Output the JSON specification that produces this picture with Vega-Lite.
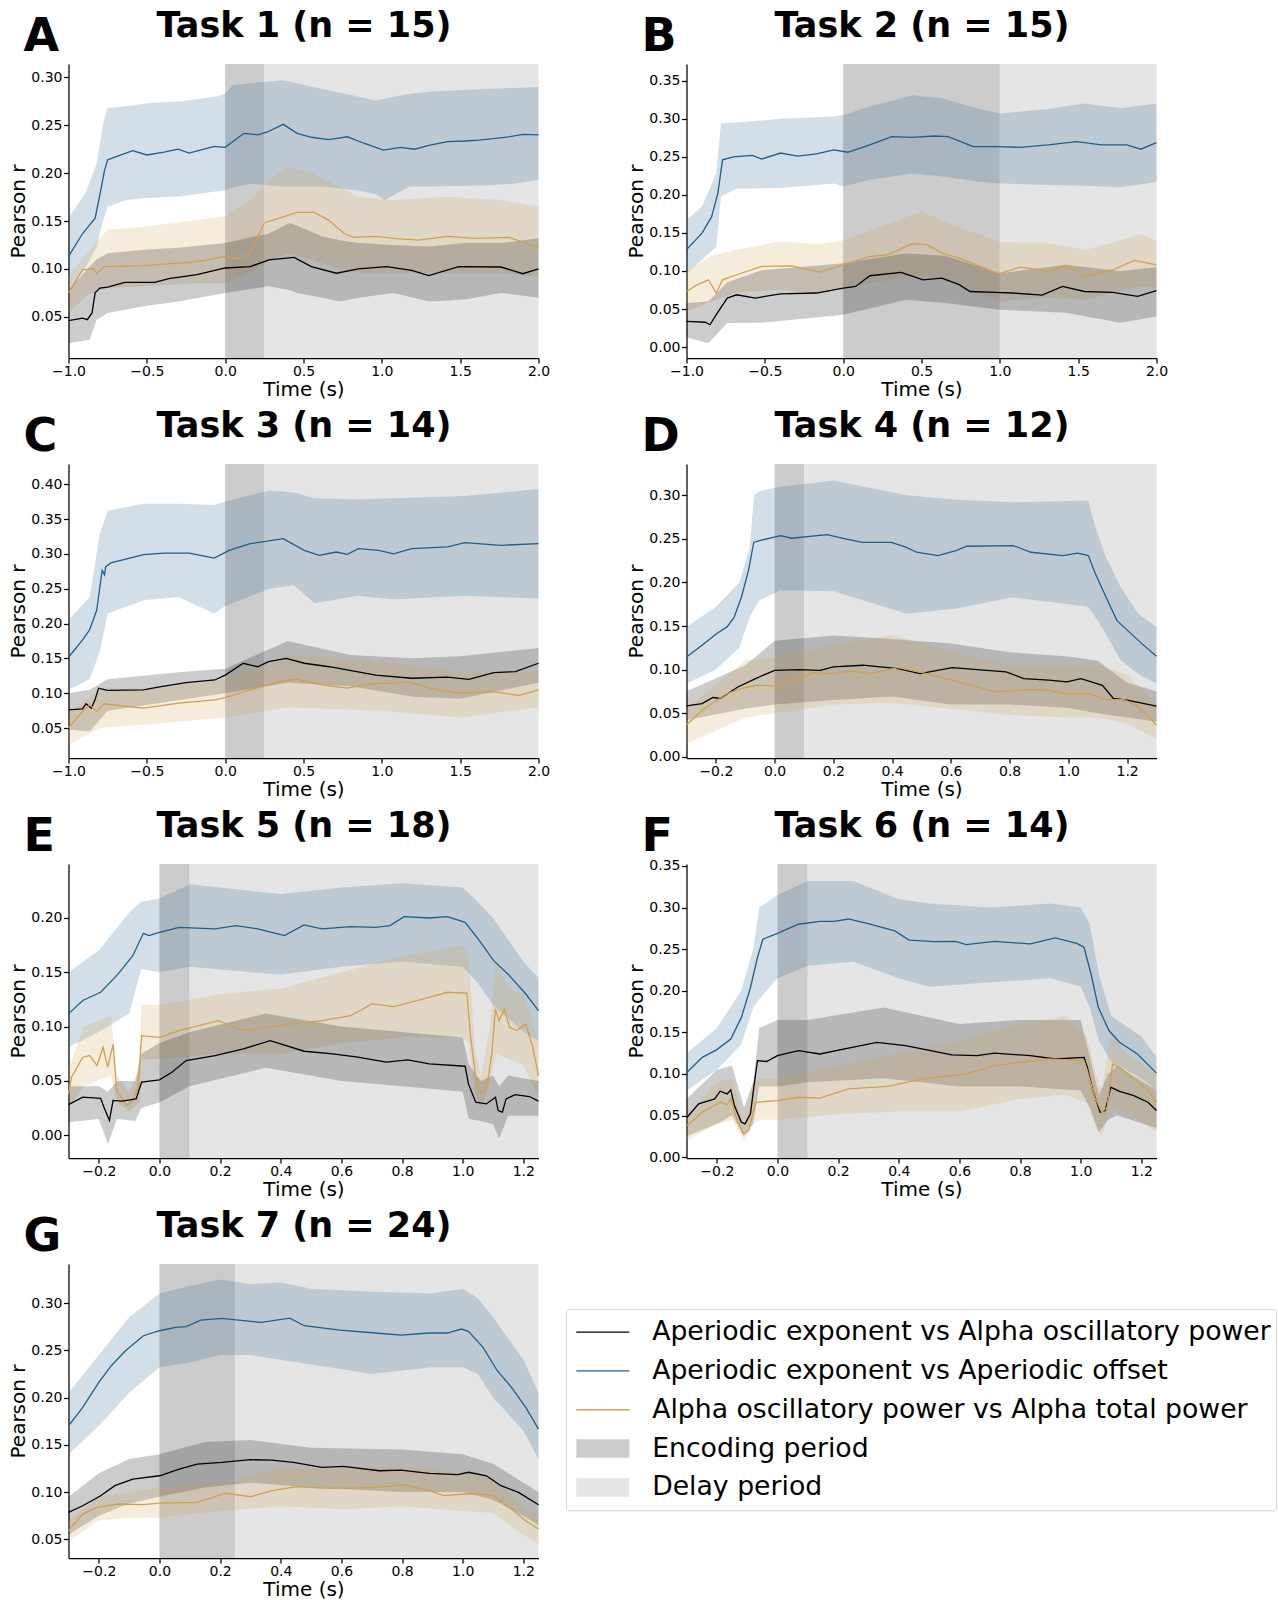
{
"$schema": "https://vega.github.io/schema/vega-lite/v6.json",
"background": "white",
"padding": {"left": 7.5, "top": 8, "right": 0, "bottom": 0},
"config": {
  "font": "DejaVu Sans",
  "view": {"stroke": null},
  "axis": {"grid": false, "domainColor": "#000000", "domainWidth": 1.25, "tickColor": "#000000", "tickWidth": 1.25, "tickSize": 5, "labelFont": "DejaVu Sans", "labelFontSize": 14, "labelColor": "#000000", "labelPadding": 1.5, "labelFlush": false, "labelOverlap": false, "titleFont": "DejaVu Sans", "titleFontSize": 20, "titleFontWeight": "normal", "titleColor": "#000000"}
},
"datasets": {
"spans": [
{"p":"A","per":"enc","x0":0,"x1":0.25},{"p":"A","per":"del","x0":0.25,"x1":2},
{"p":"B","per":"enc","x0":0,"x1":1},{"p":"B","per":"del","x0":1,"x1":2},
{"p":"C","per":"enc","x0":0,"x1":0.25},{"p":"C","per":"del","x0":0.25,"x1":2},
{"p":"D","per":"enc","x0":0,"x1":0.1},{"p":"D","per":"del","x0":0.1,"x1":1.3},
{"p":"E","per":"enc","x0":0,"x1":0.1},{"p":"E","per":"del","x0":0.1,"x1":1.25},
{"p":"F","per":"enc","x0":0,"x1":0.1},{"p":"F","per":"del","x0":0.1,"x1":1.25},
{"p":"G","per":"enc","x0":0,"x1":0.25},{"p":"G","per":"del","x0":0.25,"x1":1.25}
],
"legend": [
{"order":1,"kind":"line","key":"k","label":"Aperiodic exponent vs Alpha oscillatory power"},
{"order":2,"kind":"line","key":"b","label":"Aperiodic exponent vs Aperiodic offset"},
{"order":3,"kind":"line","key":"g","label":"Alpha oscillatory power vs Alpha total power"},
{"order":4,"kind":"patch","key":"enc","label":"Encoding period"},
{"order":5,"kind":"patch","key":"del","label":"Delay period"}
],
"lines": [
{"p":"A","s":"b","t":-1,"r":0.113},{"p":"A","s":"b","t":-0.91,"r":0.137},{"p":"A","s":"b","t":-0.83,"r":0.153},{"p":"A","s":"b","t":-0.8,"r":0.177},{"p":"A","s":"b","t":-0.77,"r":0.203},{"p":"A","s":"b","t":-0.75,"r":0.214},{"p":"A","s":"b","t":-0.7,"r":0.217},{"p":"A","s":"b","t":-0.59,"r":0.2235},{"p":"A","s":"b","t":-0.5,"r":0.219},{"p":"A","s":"b","t":-0.39,"r":0.222},{"p":"A","s":"b","t":-0.3,"r":0.225},{"p":"A","s":"b","t":-0.23,"r":0.221},{"p":"A","s":"b","t":-0.16,"r":0.224},{"p":"A","s":"b","t":-0.07,"r":0.228},{"p":"A","s":"b","t":0,"r":0.227},{"p":"A","s":"b","t":0.12,"r":0.2416},{"p":"A","s":"b","t":0.21,"r":0.24},{"p":"A","s":"b","t":0.27,"r":0.243},{"p":"A","s":"b","t":0.37,"r":0.251},{"p":"A","s":"b","t":0.46,"r":0.2416},{"p":"A","s":"b","t":0.55,"r":0.2375},{"p":"A","s":"b","t":0.66,"r":0.235},{"p":"A","s":"b","t":0.78,"r":0.238},{"p":"A","s":"b","t":0.89,"r":0.231},{"p":"A","s":"b","t":1.01,"r":0.224},{"p":"A","s":"b","t":1.12,"r":0.227},{"p":"A","s":"b","t":1.21,"r":0.225},{"p":"A","s":"b","t":1.3,"r":0.229},{"p":"A","s":"b","t":1.42,"r":0.233},{"p":"A","s":"b","t":1.53,"r":0.2336},{"p":"A","s":"b","t":1.62,"r":0.2346},{"p":"A","s":"b","t":1.71,"r":0.236},{"p":"A","s":"b","t":1.81,"r":0.238},{"p":"A","s":"b","t":1.9,"r":0.2405},{"p":"A","s":"b","t":2,"r":0.24},
{"p":"A","s":"g","t":-1,"r":0.075},{"p":"A","s":"g","t":-0.91,"r":0.099},{"p":"A","s":"g","t":-0.84,"r":0.1},{"p":"A","s":"g","t":-0.82,"r":0.095},{"p":"A","s":"g","t":-0.77,"r":0.1025},{"p":"A","s":"g","t":-0.52,"r":0.1035},{"p":"A","s":"g","t":-0.3,"r":0.106},{"p":"A","s":"g","t":-0.18,"r":0.1077},{"p":"A","s":"g","t":0,"r":0.113},{"p":"A","s":"g","t":0.09,"r":0.111},{"p":"A","s":"g","t":0.16,"r":0.1165},{"p":"A","s":"g","t":0.25,"r":0.148},{"p":"A","s":"g","t":0.345,"r":0.153},{"p":"A","s":"g","t":0.46,"r":0.159},{"p":"A","s":"g","t":0.57,"r":0.159},{"p":"A","s":"g","t":0.66,"r":0.151},{"p":"A","s":"g","t":0.76,"r":0.137},{"p":"A","s":"g","t":0.82,"r":0.133},{"p":"A","s":"g","t":0.96,"r":0.134},{"p":"A","s":"g","t":1.075,"r":0.132},{"p":"A","s":"g","t":1.235,"r":0.13},{"p":"A","s":"g","t":1.42,"r":0.134},{"p":"A","s":"g","t":1.6,"r":0.132},{"p":"A","s":"g","t":1.81,"r":0.133},{"p":"A","s":"g","t":2,"r":0.1225},
{"p":"A","s":"k","t":-1,"r":0.046},{"p":"A","s":"k","t":-0.91,"r":0.0486},{"p":"A","s":"k","t":-0.88,"r":0.047},{"p":"A","s":"k","t":-0.85,"r":0.054},{"p":"A","s":"k","t":-0.83,"r":0.075},{"p":"A","s":"k","t":-0.8,"r":0.08},{"p":"A","s":"k","t":-0.75,"r":0.081},{"p":"A","s":"k","t":-0.64,"r":0.086},{"p":"A","s":"k","t":-0.45,"r":0.086},{"p":"A","s":"k","t":-0.36,"r":0.09},{"p":"A","s":"k","t":-0.18,"r":0.094},{"p":"A","s":"k","t":0,"r":0.101},{"p":"A","s":"k","t":0.16,"r":0.1025},{"p":"A","s":"k","t":0.28,"r":0.1095},{"p":"A","s":"k","t":0.44,"r":0.112},{"p":"A","s":"k","t":0.55,"r":0.1025},{"p":"A","s":"k","t":0.71,"r":0.0955},{"p":"A","s":"k","t":0.85,"r":0.1},{"p":"A","s":"k","t":1.03,"r":0.1025},{"p":"A","s":"k","t":1.19,"r":0.0985},{"p":"A","s":"k","t":1.3,"r":0.093},{"p":"A","s":"k","t":1.49,"r":0.1025},{"p":"A","s":"k","t":1.76,"r":0.102},{"p":"A","s":"k","t":1.9,"r":0.095},{"p":"A","s":"k","t":2,"r":0.1},
{"p":"B","s":"b","t":-1,"r":0.128},{"p":"B","s":"b","t":-0.9,"r":0.15},{"p":"B","s":"b","t":-0.84,"r":0.171},{"p":"B","s":"b","t":-0.8,"r":0.202},{"p":"B","s":"b","t":-0.77,"r":0.246},{"p":"B","s":"b","t":-0.7,"r":0.25},{"p":"B","s":"b","t":-0.58,"r":0.252},{"p":"B","s":"b","t":-0.52,"r":0.247},{"p":"B","s":"b","t":-0.4,"r":0.255},{"p":"B","s":"b","t":-0.29,"r":0.251},{"p":"B","s":"b","t":-0.17,"r":0.254},{"p":"B","s":"b","t":-0.06,"r":0.259},{"p":"B","s":"b","t":0.03,"r":0.256},{"p":"B","s":"b","t":0.17,"r":0.2656},{"p":"B","s":"b","t":0.31,"r":0.2765},{"p":"B","s":"b","t":0.44,"r":0.2756},{"p":"B","s":"b","t":0.58,"r":0.2774},{"p":"B","s":"b","t":0.67,"r":0.2765},{"p":"B","s":"b","t":0.83,"r":0.2634},{"p":"B","s":"b","t":0.99,"r":0.2634},{"p":"B","s":"b","t":1.13,"r":0.2625},{"p":"B","s":"b","t":1.31,"r":0.2656},{"p":"B","s":"b","t":1.49,"r":0.27},{"p":"B","s":"b","t":1.65,"r":0.2656},{"p":"B","s":"b","t":1.81,"r":0.2656},{"p":"B","s":"b","t":1.9,"r":0.26},{"p":"B","s":"b","t":2,"r":0.2687},
{"p":"B","s":"g","t":-1,"r":0.073},{"p":"B","s":"g","t":-0.93,"r":0.082},{"p":"B","s":"g","t":-0.86,"r":0.0884},{"p":"B","s":"g","t":-0.81,"r":0.071},{"p":"B","s":"g","t":-0.77,"r":0.0884},{"p":"B","s":"g","t":-0.68,"r":0.095},{"p":"B","s":"g","t":-0.52,"r":0.106},{"p":"B","s":"g","t":-0.33,"r":0.1068},{"p":"B","s":"g","t":-0.15,"r":0.0985},{"p":"B","s":"g","t":0,"r":0.108},{"p":"B","s":"g","t":0.17,"r":0.119},{"p":"B","s":"g","t":0.28,"r":0.1212},{"p":"B","s":"g","t":0.44,"r":0.1357},{"p":"B","s":"g","t":0.53,"r":0.135},{"p":"B","s":"g","t":0.63,"r":0.1234},{"p":"B","s":"g","t":0.74,"r":0.1168},{"p":"B","s":"g","t":0.85,"r":0.108},{"p":"B","s":"g","t":0.99,"r":0.0963},{"p":"B","s":"g","t":1.13,"r":0.105},{"p":"B","s":"g","t":1.31,"r":0.0993},{"p":"B","s":"g","t":1.43,"r":0.1072},{"p":"B","s":"g","t":1.54,"r":0.0928},{"p":"B","s":"g","t":1.72,"r":0.1015},{"p":"B","s":"g","t":1.86,"r":0.1138},{"p":"B","s":"g","t":2,"r":0.108},
{"p":"B","s":"k","t":-1,"r":0.0337},{"p":"B","s":"k","t":-0.88,"r":0.0326},{"p":"B","s":"k","t":-0.85,"r":0.0293},{"p":"B","s":"k","t":-0.81,"r":0.0425},{"p":"B","s":"k","t":-0.74,"r":0.0644},{"p":"B","s":"k","t":-0.68,"r":0.0687},{"p":"B","s":"k","t":-0.56,"r":0.0644},{"p":"B","s":"k","t":-0.4,"r":0.07},{"p":"B","s":"k","t":-0.17,"r":0.071},{"p":"B","s":"k","t":0,"r":0.0775},{"p":"B","s":"k","t":0.08,"r":0.0797},{"p":"B","s":"k","t":0.17,"r":0.0937},{"p":"B","s":"k","t":0.37,"r":0.098},{"p":"B","s":"k","t":0.51,"r":0.0884},{"p":"B","s":"k","t":0.63,"r":0.0906},{"p":"B","s":"k","t":0.74,"r":0.082},{"p":"B","s":"k","t":0.81,"r":0.073},{"p":"B","s":"k","t":0.97,"r":0.0718},{"p":"B","s":"k","t":1.08,"r":0.071},{"p":"B","s":"k","t":1.27,"r":0.0683},{"p":"B","s":"k","t":1.4,"r":0.0797},{"p":"B","s":"k","t":1.54,"r":0.073},{"p":"B","s":"k","t":1.72,"r":0.0718},{"p":"B","s":"k","t":1.88,"r":0.0665},{"p":"B","s":"k","t":2,"r":0.074},
{"p":"C","s":"b","t":-1,"r":0.1516},{"p":"C","s":"b","t":-0.91,"r":0.1764},{"p":"C","s":"b","t":-0.865,"r":0.191},{"p":"C","s":"b","t":-0.82,"r":0.219},{"p":"C","s":"b","t":-0.785,"r":0.2765},{"p":"C","s":"b","t":-0.77,"r":0.27},{"p":"C","s":"b","t":-0.763,"r":0.2813},{"p":"C","s":"b","t":-0.73,"r":0.287},{"p":"C","s":"b","t":-0.52,"r":0.2989},{"p":"C","s":"b","t":-0.39,"r":0.301},{"p":"C","s":"b","t":-0.23,"r":0.301},{"p":"C","s":"b","t":-0.07,"r":0.294},{"p":"C","s":"b","t":0.025,"r":0.305},{"p":"C","s":"b","t":0.16,"r":0.3146},{"p":"C","s":"b","t":0.3,"r":0.3194},{"p":"C","s":"b","t":0.37,"r":0.3218},{"p":"C","s":"b","t":0.505,"r":0.305},{"p":"C","s":"b","t":0.6,"r":0.298},{"p":"C","s":"b","t":0.71,"r":0.3027},{"p":"C","s":"b","t":0.78,"r":0.2994},{"p":"C","s":"b","t":0.85,"r":0.3075},{"p":"C","s":"b","t":0.98,"r":0.305},{"p":"C","s":"b","t":1.075,"r":0.3},{"p":"C","s":"b","t":1.19,"r":0.3075},{"p":"C","s":"b","t":1.42,"r":0.31},{"p":"C","s":"b","t":1.53,"r":0.316},{"p":"C","s":"b","t":1.76,"r":0.3123},{"p":"C","s":"b","t":2,"r":0.3146},
{"p":"C","s":"k","t":-1,"r":0.0762},{"p":"C","s":"k","t":-0.911,"r":0.0776},{"p":"C","s":"k","t":-0.888,"r":0.085},{"p":"C","s":"k","t":-0.854,"r":0.0786},{"p":"C","s":"k","t":-0.831,"r":0.0905},{"p":"C","s":"k","t":-0.808,"r":0.1072},{"p":"C","s":"k","t":-0.751,"r":0.104},{"p":"C","s":"k","t":-0.523,"r":0.1048},{"p":"C","s":"k","t":-0.409,"r":0.1096},{"p":"C","s":"k","t":-0.249,"r":0.1153},{"p":"C","s":"k","t":-0.066,"r":0.119},{"p":"C","s":"k","t":0,"r":0.126},{"p":"C","s":"k","t":0.116,"r":0.143},{"p":"C","s":"k","t":0.208,"r":0.138},{"p":"C","s":"k","t":0.276,"r":0.1453},{"p":"C","s":"k","t":0.39,"r":0.15},{"p":"C","s":"k","t":0.505,"r":0.143},{"p":"C","s":"k","t":0.664,"r":0.138},{"p":"C","s":"k","t":0.779,"r":0.1334},{"p":"C","s":"k","t":0.961,"r":0.126},{"p":"C","s":"k","t":1.19,"r":0.1215},{"p":"C","s":"k","t":1.418,"r":0.123},{"p":"C","s":"k","t":1.555,"r":0.12},{"p":"C","s":"k","t":1.715,"r":0.1296},{"p":"C","s":"k","t":1.852,"r":0.131},{"p":"C","s":"k","t":2,"r":0.143},
{"p":"C","s":"g","t":-1,"r":0.05},{"p":"C","s":"g","t":-0.911,"r":0.0738},{"p":"C","s":"g","t":-0.865,"r":0.0834},{"p":"C","s":"g","t":-0.82,"r":0.0738},{"p":"C","s":"g","t":-0.774,"r":0.0848},{"p":"C","s":"g","t":-0.523,"r":0.0786},{"p":"C","s":"g","t":-0.295,"r":0.0857},{"p":"C","s":"g","t":-0.066,"r":0.0905},{"p":"C","s":"g","t":0,"r":0.0938},{"p":"C","s":"g","t":0.162,"r":0.1048},{"p":"C","s":"g","t":0.345,"r":0.1167},{"p":"C","s":"g","t":0.459,"r":0.12},{"p":"C","s":"g","t":0.619,"r":0.112},{"p":"C","s":"g","t":0.779,"r":0.1072},{"p":"C","s":"g","t":0.916,"r":0.1134},{"p":"C","s":"g","t":1.075,"r":0.1144},{"p":"C","s":"g","t":1.167,"r":0.1167},{"p":"C","s":"g","t":1.304,"r":0.1072},{"p":"C","s":"g","t":1.486,"r":0.1},{"p":"C","s":"g","t":1.715,"r":0.1024},{"p":"C","s":"g","t":1.874,"r":0.0967},{"p":"C","s":"g","t":2,"r":0.1048},
{"p":"D","s":"b","t":-0.3,"r":0.1145},{"p":"D","s":"b","t":-0.247,"r":0.128},{"p":"D","s":"b","t":-0.198,"r":0.1412},{"p":"D","s":"b","t":-0.162,"r":0.149},{"p":"D","s":"b","t":-0.138,"r":0.16},{"p":"D","s":"b","t":-0.113,"r":0.1832},{"p":"D","s":"b","t":-0.089,"r":0.2137},{"p":"D","s":"b","t":-0.071,"r":0.246},{"p":"D","s":"b","t":-0.052,"r":0.248},{"p":"D","s":"b","t":0.021,"r":0.2538},{"p":"D","s":"b","t":0.057,"r":0.2508},{"p":"D","s":"b","t":0.179,"r":0.255},{"p":"D","s":"b","t":0.24,"r":0.25},{"p":"D","s":"b","t":0.3,"r":0.246},{"p":"D","s":"b","t":0.398,"r":0.246},{"p":"D","s":"b","t":0.447,"r":0.2405},{"p":"D","s":"b","t":0.483,"r":0.2347},{"p":"D","s":"b","t":0.556,"r":0.2309},{"p":"D","s":"b","t":0.617,"r":0.2366},{"p":"D","s":"b","t":0.654,"r":0.2416},{"p":"D","s":"b","t":0.812,"r":0.2424},{"p":"D","s":"b","t":0.873,"r":0.2347},{"p":"D","s":"b","t":0.982,"r":0.2309},{"p":"D","s":"b","t":1.031,"r":0.2336},{"p":"D","s":"b","t":1.068,"r":0.2309},{"p":"D","s":"b","t":1.092,"r":0.21},{"p":"D","s":"b","t":1.128,"r":0.1832},{"p":"D","s":"b","t":1.165,"r":0.1565},{"p":"D","s":"b","t":1.201,"r":0.145},{"p":"D","s":"b","t":1.25,"r":0.1298},{"p":"D","s":"b","t":1.3,"r":0.1153},
{"p":"D","s":"k","t":-0.3,"r":0.0584},{"p":"D","s":"k","t":-0.247,"r":0.061},{"p":"D","s":"k","t":-0.21,"r":0.0679},{"p":"D","s":"k","t":-0.186,"r":0.0668},{"p":"D","s":"k","t":-0.125,"r":0.08},{"p":"D","s":"k","t":-0.065,"r":0.0897},{"p":"D","s":"k","t":0,"r":0.0992},{"p":"D","s":"k","t":0.082,"r":0.1},{"p":"D","s":"k","t":0.155,"r":0.0992},{"p":"D","s":"k","t":0.2,"r":0.103},{"p":"D","s":"k","t":0.3,"r":0.105},{"p":"D","s":"k","t":0.42,"r":0.101},{"p":"D","s":"k","t":0.495,"r":0.0954},{"p":"D","s":"k","t":0.605,"r":0.1023},{"p":"D","s":"k","t":0.69,"r":0.1},{"p":"D","s":"k","t":0.788,"r":0.0973},{"p":"D","s":"k","t":0.848,"r":0.0897},{"p":"D","s":"k","t":0.934,"r":0.0878},{"p":"D","s":"k","t":0.995,"r":0.0859},{"p":"D","s":"k","t":1.043,"r":0.0897},{"p":"D","s":"k","t":1.116,"r":0.082},{"p":"D","s":"k","t":1.153,"r":0.0668},{"p":"D","s":"k","t":1.2,"r":0.0649},{"p":"D","s":"k","t":1.3,"r":0.058},
{"p":"D","s":"g","t":-0.3,"r":0.0363},{"p":"D","s":"g","t":-0.247,"r":0.0534},{"p":"D","s":"g","t":-0.162,"r":0.0725},{"p":"D","s":"g","t":-0.113,"r":0.0782},{"p":"D","s":"g","t":-0.065,"r":0.082},{"p":"D","s":"g","t":0,"r":0.0813},{"p":"D","s":"g","t":0.082,"r":0.0897},{"p":"D","s":"g","t":0.13,"r":0.0962},{"p":"D","s":"g","t":0.2,"r":0.0954},{"p":"D","s":"g","t":0.264,"r":0.0985},{"p":"D","s":"g","t":0.325,"r":0.0954},{"p":"D","s":"g","t":0.42,"r":0.1023},{"p":"D","s":"g","t":0.508,"r":0.0962},{"p":"D","s":"g","t":0.568,"r":0.0908},{"p":"D","s":"g","t":0.69,"r":0.0802},{"p":"D","s":"g","t":0.751,"r":0.0744},{"p":"D","s":"g","t":0.873,"r":0.0771},{"p":"D","s":"g","t":0.934,"r":0.0763},{"p":"D","s":"g","t":0.995,"r":0.0718},{"p":"D","s":"g","t":1.068,"r":0.0725},{"p":"D","s":"g","t":1.128,"r":0.0656},{"p":"D","s":"g","t":1.19,"r":0.0656},{"p":"D","s":"g","t":1.238,"r":0.0572},{"p":"D","s":"g","t":1.3,"r":0.0363},
{"p":"E","s":"b","t":-0.3,"r":0.1117},{"p":"E","s":"b","t":-0.253,"r":0.124},{"p":"E","s":"b","t":-0.194,"r":0.1316},{"p":"E","s":"b","t":-0.136,"r":0.1485},{"p":"E","s":"b","t":-0.088,"r":0.1653},{"p":"E","s":"b","t":-0.053,"r":0.1859},{"p":"E","s":"b","t":-0.035,"r":0.1837},{"p":"E","s":"b","t":0,"r":0.1868},{"p":"E","s":"b","t":0.065,"r":0.1914},{"p":"E","s":"b","t":0.183,"r":0.1899},{"p":"E","s":"b","t":0.253,"r":0.193},{"p":"E","s":"b","t":0.324,"r":0.1899},{"p":"E","s":"b","t":0.412,"r":0.1837},{"p":"E","s":"b","t":0.477,"r":0.1936},{"p":"E","s":"b","t":0.536,"r":0.1899},{"p":"E","s":"b","t":0.63,"r":0.192},{"p":"E","s":"b","t":0.713,"r":0.1914},{"p":"E","s":"b","t":0.76,"r":0.193},{"p":"E","s":"b","t":0.807,"r":0.2012},{"p":"E","s":"b","t":0.89,"r":0.2},{"p":"E","s":"b","t":0.949,"r":0.2012},{"p":"E","s":"b","t":1.008,"r":0.196},{"p":"E","s":"b","t":1.055,"r":0.1791},{"p":"E","s":"b","t":1.102,"r":0.1607},{"p":"E","s":"b","t":1.149,"r":0.1485},{"p":"E","s":"b","t":1.208,"r":0.13},{"p":"E","s":"b","t":1.25,"r":0.1147},
{"p":"E","s":"g","t":-0.3,"r":0.038},{"p":"E","s":"g","t":-0.29,"r":0.0534},{"p":"E","s":"g","t":-0.253,"r":0.0718},{"p":"E","s":"g","t":-0.23,"r":0.0733},{"p":"E","s":"g","t":-0.206,"r":0.0641},{"p":"E","s":"g","t":-0.186,"r":0.081},{"p":"E","s":"g","t":-0.171,"r":0.0626},{"p":"E","s":"g","t":-0.153,"r":0.0837},{"p":"E","s":"g","t":-0.141,"r":0.041},{"p":"E","s":"g","t":-0.106,"r":0.0273},{"p":"E","s":"g","t":-0.088,"r":0.032},{"p":"E","s":"g","t":-0.071,"r":0.0442},{"p":"E","s":"g","t":-0.059,"r":0.0917},{"p":"E","s":"g","t":0,"r":0.09},{"p":"E","s":"g","t":0.065,"r":0.0963},{"p":"E","s":"g","t":0.194,"r":0.1055},{"p":"E","s":"g","t":0.277,"r":0.0963},{"p":"E","s":"g","t":0.418,"r":0.1018},{"p":"E","s":"g","t":0.536,"r":0.1055},{"p":"E","s":"g","t":0.63,"r":0.11},{"p":"E","s":"g","t":0.701,"r":0.1209},{"p":"E","s":"g","t":0.772,"r":0.1184},{"p":"E","s":"g","t":0.89,"r":0.127},{"p":"E","s":"g","t":0.949,"r":0.1316},{"p":"E","s":"g","t":1.014,"r":0.1307},{"p":"E","s":"g","t":1.025,"r":0.0933},{"p":"E","s":"g","t":1.043,"r":0.0534},{"p":"E","s":"g","t":1.061,"r":0.038},{"p":"E","s":"g","t":1.078,"r":0.041},{"p":"E","s":"g","t":1.096,"r":0.0748},{"p":"E","s":"g","t":1.108,"r":0.1163},{"p":"E","s":"g","t":1.12,"r":0.1055},{"p":"E","s":"g","t":1.137,"r":0.1163},{"p":"E","s":"g","t":1.155,"r":0.0994},{"p":"E","s":"g","t":1.178,"r":0.0963},{"p":"E","s":"g","t":1.208,"r":0.1025},{"p":"E","s":"g","t":1.231,"r":0.081},{"p":"E","s":"g","t":1.25,"r":0.0549},
{"p":"E","s":"k","t":-0.3,"r":0.0282},{"p":"E","s":"k","t":-0.253,"r":0.035},{"p":"E","s":"k","t":-0.194,"r":0.034},{"p":"E","s":"k","t":-0.183,"r":0.0258},{"p":"E","s":"k","t":-0.165,"r":0.0135},{"p":"E","s":"k","t":-0.153,"r":0.032},{"p":"E","s":"k","t":-0.124,"r":0.0313},{"p":"E","s":"k","t":-0.077,"r":0.0334},{"p":"E","s":"k","t":-0.059,"r":0.0488},{"p":"E","s":"k","t":0,"r":0.051},{"p":"E","s":"k","t":0.041,"r":0.058},{"p":"E","s":"k","t":0.088,"r":0.0687},{"p":"E","s":"k","t":0.183,"r":0.0733},{"p":"E","s":"k","t":0.277,"r":0.0794},{"p":"E","s":"k","t":0.365,"r":0.0871},{"p":"E","s":"k","t":0.418,"r":0.0825},{"p":"E","s":"k","t":0.477,"r":0.0773},{"p":"E","s":"k","t":0.572,"r":0.0748},{"p":"E","s":"k","t":0.654,"r":0.0718},{"p":"E","s":"k","t":0.748,"r":0.0672},{"p":"E","s":"k","t":0.819,"r":0.0693},{"p":"E","s":"k","t":0.89,"r":0.0656},{"p":"E","s":"k","t":1.008,"r":0.0635},{"p":"E","s":"k","t":1.019,"r":0.0472},{"p":"E","s":"k","t":1.043,"r":0.0304},{"p":"E","s":"k","t":1.078,"r":0.0288},{"p":"E","s":"k","t":1.108,"r":0.035},{"p":"E","s":"k","t":1.117,"r":0.0227},{"p":"E","s":"k","t":1.131,"r":0.0212},{"p":"E","s":"k","t":1.143,"r":0.0334},{"p":"E","s":"k","t":1.173,"r":0.0374},{"p":"E","s":"k","t":1.22,"r":0.0356},{"p":"E","s":"k","t":1.25,"r":0.0313},
{"p":"F","s":"b","t":-0.298,"r":0.102},{"p":"F","s":"b","t":-0.248,"r":0.12},{"p":"F","s":"b","t":-0.201,"r":0.129},{"p":"F","s":"b","t":-0.154,"r":0.142},{"p":"F","s":"b","t":-0.119,"r":0.168},{"p":"F","s":"b","t":-0.089,"r":0.204},{"p":"F","s":"b","t":-0.066,"r":0.24},{"p":"F","s":"b","t":-0.048,"r":0.262},{"p":"F","s":"b","t":0,"r":0.269},{"p":"F","s":"b","t":0.069,"r":0.28},{"p":"F","s":"b","t":0.14,"r":0.2835},{"p":"F","s":"b","t":0.187,"r":0.2835},{"p":"F","s":"b","t":0.234,"r":0.2863},{"p":"F","s":"b","t":0.305,"r":0.28},{"p":"F","s":"b","t":0.387,"r":0.272},{"p":"F","s":"b","t":0.434,"r":0.261},{"p":"F","s":"b","t":0.516,"r":0.259},{"p":"F","s":"b","t":0.587,"r":0.2595},{"p":"F","s":"b","t":0.622,"r":0.2555},{"p":"F","s":"b","t":0.716,"r":0.2595},{"p":"F","s":"b","t":0.834,"r":0.2563},{"p":"F","s":"b","t":0.916,"r":0.2635},{"p":"F","s":"b","t":0.987,"r":0.257},{"p":"F","s":"b","t":1.011,"r":0.2523},{"p":"F","s":"b","t":1.034,"r":0.2202},{"p":"F","s":"b","t":1.058,"r":0.1802},{"p":"F","s":"b","t":1.093,"r":0.1522},{"p":"F","s":"b","t":1.128,"r":0.1381},{"p":"F","s":"b","t":1.187,"r":0.1241},{"p":"F","s":"b","t":1.25,"r":0.101},
{"p":"F","s":"k","t":-0.298,"r":0.048},{"p":"F","s":"k","t":-0.26,"r":0.064},{"p":"F","s":"k","t":-0.207,"r":0.07},{"p":"F","s":"k","t":-0.189,"r":0.0793},{"p":"F","s":"k","t":-0.166,"r":0.076},{"p":"F","s":"k","t":-0.154,"r":0.081},{"p":"F","s":"k","t":-0.142,"r":0.062},{"p":"F","s":"k","t":-0.119,"r":0.042},{"p":"F","s":"k","t":-0.107,"r":0.04},{"p":"F","s":"k","t":-0.089,"r":0.052},{"p":"F","s":"k","t":-0.078,"r":0.084},{"p":"F","s":"k","t":-0.066,"r":0.116},{"p":"F","s":"k","t":-0.036,"r":0.115},{"p":"F","s":"k","t":0,"r":0.122},{"p":"F","s":"k","t":0.069,"r":0.128},{"p":"F","s":"k","t":0.14,"r":0.124},{"p":"F","s":"k","t":0.246,"r":0.132},{"p":"F","s":"k","t":0.328,"r":0.138},{"p":"F","s":"k","t":0.422,"r":0.134},{"p":"F","s":"k","t":0.493,"r":0.129},{"p":"F","s":"k","t":0.575,"r":0.123},{"p":"F","s":"k","t":0.658,"r":0.122},{"p":"F","s":"k","t":0.716,"r":0.125},{"p":"F","s":"k","t":0.834,"r":0.122},{"p":"F","s":"k","t":0.916,"r":0.118},{"p":"F","s":"k","t":1.011,"r":0.12},{"p":"F","s":"k","t":1.022,"r":0.108},{"p":"F","s":"k","t":1.04,"r":0.08},{"p":"F","s":"k","t":1.064,"r":0.054},{"p":"F","s":"k","t":1.081,"r":0.056},{"p":"F","s":"k","t":1.099,"r":0.084},{"p":"F","s":"k","t":1.111,"r":0.082},{"p":"F","s":"k","t":1.128,"r":0.079},{"p":"F","s":"k","t":1.175,"r":0.074},{"p":"F","s":"k","t":1.222,"r":0.066},{"p":"F","s":"k","t":1.25,"r":0.056},
{"p":"F","s":"g","t":-0.298,"r":0.038},{"p":"F","s":"g","t":-0.248,"r":0.054},{"p":"F","s":"g","t":-0.189,"r":0.066},{"p":"F","s":"g","t":-0.166,"r":0.063},{"p":"F","s":"g","t":-0.154,"r":0.07},{"p":"F","s":"g","t":-0.136,"r":0.048},{"p":"F","s":"g","t":-0.113,"r":0.028},{"p":"F","s":"g","t":-0.095,"r":0.032},{"p":"F","s":"g","t":-0.072,"r":0.066},{"p":"F","s":"g","t":0,"r":0.068},{"p":"F","s":"g","t":0.069,"r":0.072},{"p":"F","s":"g","t":0.14,"r":0.071},{"p":"F","s":"g","t":0.234,"r":0.082},{"p":"F","s":"g","t":0.364,"r":0.085},{"p":"F","s":"g","t":0.481,"r":0.094},{"p":"F","s":"g","t":0.622,"r":0.1},{"p":"F","s":"g","t":0.716,"r":0.11},{"p":"F","s":"g","t":0.799,"r":0.114},{"p":"F","s":"g","t":0.893,"r":0.118},{"p":"F","s":"g","t":1.011,"r":0.116},{"p":"F","s":"g","t":1.022,"r":0.104},{"p":"F","s":"g","t":1.046,"r":0.072},{"p":"F","s":"g","t":1.07,"r":0.054},{"p":"F","s":"g","t":1.087,"r":0.06},{"p":"F","s":"g","t":1.105,"r":0.112},{"p":"F","s":"g","t":1.128,"r":0.108},{"p":"F","s":"g","t":1.175,"r":0.094},{"p":"F","s":"g","t":1.222,"r":0.08},{"p":"F","s":"g","t":1.25,"r":0.066},
{"p":"G","s":"b","t":-0.3,"r":0.17},{"p":"G","s":"b","t":-0.253,"r":0.1896},{"p":"G","s":"b","t":-0.2,"r":0.216},{"p":"G","s":"b","t":-0.159,"r":0.2337},{"p":"G","s":"b","t":-0.112,"r":0.2496},{"p":"G","s":"b","t":-0.053,"r":0.2654},{"p":"G","s":"b","t":0,"r":0.2707},{"p":"G","s":"b","t":0.053,"r":0.2743},{"p":"G","s":"b","t":0.088,"r":0.275},{"p":"G","s":"b","t":0.136,"r":0.282},{"p":"G","s":"b","t":0.206,"r":0.2838},{"p":"G","s":"b","t":0.277,"r":0.2813},{"p":"G","s":"b","t":0.336,"r":0.2795},{"p":"G","s":"b","t":0.43,"r":0.2841},{"p":"G","s":"b","t":0.477,"r":0.276},{"p":"G","s":"b","t":0.595,"r":0.2714},{"p":"G","s":"b","t":0.713,"r":0.2683},{"p":"G","s":"b","t":0.796,"r":0.2661},{"p":"G","s":"b","t":0.89,"r":0.2683},{"p":"G","s":"b","t":0.949,"r":0.2683},{"p":"G","s":"b","t":0.996,"r":0.2725},{"p":"G","s":"b","t":1.019,"r":0.27},{"p":"G","s":"b","t":1.067,"r":0.2531},{"p":"G","s":"b","t":1.114,"r":0.2284},{"p":"G","s":"b","t":1.161,"r":0.2108},{"p":"G","s":"b","t":1.208,"r":0.1896},{"p":"G","s":"b","t":1.25,"r":0.1667},
{"p":"G","s":"k","t":-0.3,"r":0.0786},{"p":"G","s":"k","t":-0.253,"r":0.0856},{"p":"G","s":"k","t":-0.194,"r":0.0962},{"p":"G","s":"k","t":-0.147,"r":0.1068},{"p":"G","s":"k","t":-0.088,"r":0.1138},{"p":"G","s":"k","t":0,"r":0.1173},{"p":"G","s":"k","t":0.065,"r":0.1244},{"p":"G","s":"k","t":0.124,"r":0.1297},{"p":"G","s":"k","t":0.206,"r":0.1315},{"p":"G","s":"k","t":0.3,"r":0.1343},{"p":"G","s":"k","t":0.371,"r":0.1339},{"p":"G","s":"k","t":0.442,"r":0.1315},{"p":"G","s":"k","t":0.536,"r":0.1262},{"p":"G","s":"k","t":0.607,"r":0.1272},{"p":"G","s":"k","t":0.725,"r":0.1226},{"p":"G","s":"k","t":0.796,"r":0.1233},{"p":"G","s":"k","t":0.89,"r":0.1198},{"p":"G","s":"k","t":0.984,"r":0.1184},{"p":"G","s":"k","t":1.019,"r":0.121},{"p":"G","s":"k","t":1.078,"r":0.1173},{"p":"G","s":"k","t":1.126,"r":0.1068},{"p":"G","s":"k","t":1.184,"r":0.0997},{"p":"G","s":"k","t":1.25,"r":0.0867},
{"p":"G","s":"g","t":-0.3,"r":0.0592},{"p":"G","s":"g","t":-0.253,"r":0.0768},{"p":"G","s":"g","t":-0.206,"r":0.0839},{"p":"G","s":"g","t":-0.136,"r":0.0874},{"p":"G","s":"g","t":-0.053,"r":0.0867},{"p":"G","s":"g","t":0,"r":0.0884},{"p":"G","s":"g","t":0.124,"r":0.0891},{"p":"G","s":"g","t":0.218,"r":0.099},{"p":"G","s":"g","t":0.3,"r":0.0951},{"p":"G","s":"g","t":0.371,"r":0.1015},{"p":"G","s":"g","t":0.454,"r":0.1057},{"p":"G","s":"g","t":0.536,"r":0.1043},{"p":"G","s":"g","t":0.654,"r":0.1043},{"p":"G","s":"g","t":0.748,"r":0.1057},{"p":"G","s":"g","t":0.807,"r":0.1078},{"p":"G","s":"g","t":0.89,"r":0.1015},{"p":"G","s":"g","t":0.937,"r":0.0962},{"p":"G","s":"g","t":1.008,"r":0.098},{"p":"G","s":"g","t":1.055,"r":0.098},{"p":"G","s":"g","t":1.102,"r":0.0962},{"p":"G","s":"g","t":1.161,"r":0.0821},{"p":"G","s":"g","t":1.208,"r":0.0697},{"p":"G","s":"g","t":1.25,"r":0.061}
],
"bands": [
{"p":"A","s":"b","t":-1,"lo":0.075,"hi":0.153},{"p":"A","s":"b","t":-0.89,"lo":0.102,"hi":0.18},{"p":"A","s":"b","t":-0.82,"lo":0.123,"hi":0.21},{"p":"A","s":"b","t":-0.78,"lo":0.15,"hi":0.25},{"p":"A","s":"b","t":-0.75,"lo":0.165,"hi":0.268},{"p":"A","s":"b","t":-0.63,"lo":0.172,"hi":0.27},{"p":"A","s":"b","t":-0.5,"lo":0.174,"hi":0.273},{"p":"A","s":"b","t":-0.28,"lo":0.176,"hi":0.275},{"p":"A","s":"b","t":-0.05,"lo":0.181,"hi":0.28},{"p":"A","s":"b","t":0,"lo":0.182,"hi":0.283},{"p":"A","s":"b","t":0.05,"lo":0.185,"hi":0.292},{"p":"A","s":"b","t":0.16,"lo":0.189,"hi":0.294},{"p":"A","s":"b","t":0.37,"lo":0.186,"hi":0.297},{"p":"A","s":"b","t":0.62,"lo":0.186,"hi":0.288},{"p":"A","s":"b","t":0.85,"lo":0.182,"hi":0.28},{"p":"A","s":"b","t":0.96,"lo":0.178,"hi":0.276},{"p":"A","s":"b","t":1.02,"lo":0.172,"hi":0.278},{"p":"A","s":"b","t":1.18,"lo":0.186,"hi":0.283},{"p":"A","s":"b","t":1.3,"lo":0.186,"hi":0.285},{"p":"A","s":"b","t":1.64,"lo":0.187,"hi":0.288},{"p":"A","s":"b","t":1.84,"lo":0.189,"hi":0.289},{"p":"A","s":"b","t":2,"lo":0.193,"hi":0.29},
{"p":"A","s":"g","t":-1,"lo":0.054,"hi":0.092},{"p":"A","s":"g","t":-0.865,"lo":0.075,"hi":0.12},{"p":"A","s":"g","t":-0.75,"lo":0.08,"hi":0.141},{"p":"A","s":"g","t":-0.52,"lo":0.082,"hi":0.144},{"p":"A","s":"g","t":-0.18,"lo":0.085,"hi":0.151},{"p":"A","s":"g","t":0,"lo":0.085,"hi":0.155},{"p":"A","s":"g","t":0.16,"lo":0.096,"hi":0.172},{"p":"A","s":"g","t":0.3,"lo":0.11,"hi":0.196},{"p":"A","s":"g","t":0.41,"lo":0.116,"hi":0.207},{"p":"A","s":"g","t":0.55,"lo":0.11,"hi":0.2},{"p":"A","s":"g","t":0.73,"lo":0.1,"hi":0.186},{"p":"A","s":"g","t":0.85,"lo":0.096,"hi":0.1755},{"p":"A","s":"g","t":1.075,"lo":0.096,"hi":0.172},{"p":"A","s":"g","t":1.42,"lo":0.096,"hi":0.1755},{"p":"A","s":"g","t":1.76,"lo":0.096,"hi":0.172},{"p":"A","s":"g","t":2,"lo":0.092,"hi":0.165},
{"p":"A","s":"k","t":-1,"lo":0.0225,"hi":0.078},{"p":"A","s":"k","t":-0.865,"lo":0.026,"hi":0.1025},{"p":"A","s":"k","t":-0.82,"lo":0.047,"hi":0.11},{"p":"A","s":"k","t":-0.75,"lo":0.054,"hi":0.1165},{"p":"A","s":"k","t":-0.52,"lo":0.061,"hi":0.12},{"p":"A","s":"k","t":-0.3,"lo":0.066,"hi":0.122},{"p":"A","s":"k","t":0,"lo":0.075,"hi":0.127},{"p":"A","s":"k","t":0.28,"lo":0.082,"hi":0.137},{"p":"A","s":"k","t":0.41,"lo":0.078,"hi":0.148},{"p":"A","s":"k","t":0.46,"lo":0.075,"hi":0.145},{"p":"A","s":"k","t":0.62,"lo":0.07,"hi":0.134},{"p":"A","s":"k","t":0.73,"lo":0.066,"hi":0.13},{"p":"A","s":"k","t":0.85,"lo":0.07,"hi":0.127},{"p":"A","s":"k","t":1.075,"lo":0.075,"hi":0.125},{"p":"A","s":"k","t":1.3,"lo":0.066,"hi":0.1234},{"p":"A","s":"k","t":1.53,"lo":0.068,"hi":0.127},{"p":"A","s":"k","t":1.76,"lo":0.075,"hi":0.127},{"p":"A","s":"k","t":2,"lo":0.07,"hi":0.132},
{"p":"B","s":"b","t":-1,"lo":0.097,"hi":0.167},{"p":"B","s":"b","t":-0.9,"lo":0.115,"hi":0.185},{"p":"B","s":"b","t":-0.81,"lo":0.132,"hi":0.228},{"p":"B","s":"b","t":-0.78,"lo":0.198,"hi":0.294},{"p":"B","s":"b","t":-0.68,"lo":0.208,"hi":0.295},{"p":"B","s":"b","t":-0.4,"lo":0.209,"hi":0.3},{"p":"B","s":"b","t":-0.06,"lo":0.215,"hi":0.303},{"p":"B","s":"b","t":0,"lo":0.211,"hi":0.305},{"p":"B","s":"b","t":0.17,"lo":0.22,"hi":0.316},{"p":"B","s":"b","t":0.44,"lo":0.228,"hi":0.331},{"p":"B","s":"b","t":0.63,"lo":0.224,"hi":0.327},{"p":"B","s":"b","t":0.85,"lo":0.218,"hi":0.314},{"p":"B","s":"b","t":1,"lo":0.215,"hi":0.307},{"p":"B","s":"b","t":1.31,"lo":0.213,"hi":0.313},{"p":"B","s":"b","t":1.54,"lo":0.212,"hi":0.32},{"p":"B","s":"b","t":1.77,"lo":0.21,"hi":0.314},{"p":"B","s":"b","t":2,"lo":0.217,"hi":0.32},
{"p":"B","s":"g","t":-1,"lo":0.047,"hi":0.1},{"p":"B","s":"g","t":-0.84,"lo":0.06,"hi":0.12},{"p":"B","s":"g","t":-0.68,"lo":0.072,"hi":0.128},{"p":"B","s":"g","t":-0.4,"lo":0.075,"hi":0.139},{"p":"B","s":"g","t":-0.15,"lo":0.07,"hi":0.135},{"p":"B","s":"g","t":0,"lo":0.078,"hi":0.14},{"p":"B","s":"g","t":0.2,"lo":0.085,"hi":0.155},{"p":"B","s":"g","t":0.5,"lo":0.095,"hi":0.178},{"p":"B","s":"g","t":0.7,"lo":0.085,"hi":0.16},{"p":"B","s":"g","t":1,"lo":0.06,"hi":0.138},{"p":"B","s":"g","t":1.3,"lo":0.065,"hi":0.137},{"p":"B","s":"g","t":1.55,"lo":0.062,"hi":0.128},{"p":"B","s":"g","t":1.9,"lo":0.08,"hi":0.148},{"p":"B","s":"g","t":2,"lo":0.078,"hi":0.14},
{"p":"B","s":"k","t":-1,"lo":0.013,"hi":0.058},{"p":"B","s":"k","t":-0.86,"lo":0.005,"hi":0.06},{"p":"B","s":"k","t":-0.74,"lo":0.0315,"hi":0.085},{"p":"B","s":"k","t":-0.52,"lo":0.032,"hi":0.101},{"p":"B","s":"k","t":0,"lo":0.0425,"hi":0.11},{"p":"B","s":"k","t":0.4,"lo":0.062,"hi":0.123},{"p":"B","s":"k","t":0.65,"lo":0.058,"hi":0.12},{"p":"B","s":"k","t":1,"lo":0.049,"hi":0.097},{"p":"B","s":"k","t":1.42,"lo":0.045,"hi":0.108},{"p":"B","s":"k","t":1.77,"lo":0.032,"hi":0.1},{"p":"B","s":"k","t":2,"lo":0.04,"hi":0.105},
{"p":"C","s":"b","t":-1,"lo":0.105,"hi":0.205},{"p":"C","s":"b","t":-0.865,"lo":0.12,"hi":0.238},{"p":"C","s":"b","t":-0.8,"lo":0.16,"hi":0.329},{"p":"C","s":"b","t":-0.75,"lo":0.2145,"hi":0.362},{"p":"C","s":"b","t":-0.52,"lo":0.2336,"hi":0.372},{"p":"C","s":"b","t":-0.3,"lo":0.238,"hi":0.372},{"p":"C","s":"b","t":-0.07,"lo":0.2145,"hi":0.37},{"p":"C","s":"b","t":0,"lo":0.225,"hi":0.375},{"p":"C","s":"b","t":0.28,"lo":0.25,"hi":0.391},{"p":"C","s":"b","t":0.44,"lo":0.255,"hi":0.388},{"p":"C","s":"b","t":0.57,"lo":0.229,"hi":0.38},{"p":"C","s":"b","t":0.85,"lo":0.24,"hi":0.378},{"p":"C","s":"b","t":1.07,"lo":0.235,"hi":0.38},{"p":"C","s":"b","t":1.53,"lo":0.24,"hi":0.383},{"p":"C","s":"b","t":2,"lo":0.236,"hi":0.393},
{"p":"C","s":"k","t":-1,"lo":0.048,"hi":0.1},{"p":"C","s":"k","t":-0.865,"lo":0.045,"hi":0.105},{"p":"C","s":"k","t":-0.75,"lo":0.075,"hi":0.12},{"p":"C","s":"k","t":-0.3,"lo":0.09,"hi":0.13},{"p":"C","s":"k","t":0,"lo":0.1,"hi":0.135},{"p":"C","s":"k","t":0.4,"lo":0.115,"hi":0.175},{"p":"C","s":"k","t":0.8,"lo":0.11,"hi":0.155},{"p":"C","s":"k","t":1.2,"lo":0.095,"hi":0.15},{"p":"C","s":"k","t":1.5,"lo":0.092,"hi":0.153},{"p":"C","s":"k","t":2,"lo":0.115,"hi":0.165},
{"p":"C","s":"g","t":-1,"lo":0.026,"hi":0.07},{"p":"C","s":"g","t":-0.8,"lo":0.05,"hi":0.105},{"p":"C","s":"g","t":-0.5,"lo":0.055,"hi":0.105},{"p":"C","s":"g","t":0,"lo":0.065,"hi":0.12},{"p":"C","s":"g","t":0.4,"lo":0.08,"hi":0.155},{"p":"C","s":"g","t":1,"lo":0.075,"hi":0.145},{"p":"C","s":"g","t":1.5,"lo":0.065,"hi":0.13},{"p":"C","s":"g","t":2,"lo":0.08,"hi":0.13},
{"p":"D","s":"b","t":-0.3,"lo":0.084,"hi":0.149},{"p":"D","s":"b","t":-0.2,"lo":0.1,"hi":0.172},{"p":"D","s":"b","t":-0.12,"lo":0.125,"hi":0.2},{"p":"D","s":"b","t":-0.085,"lo":0.16,"hi":0.24},{"p":"D","s":"b","t":-0.07,"lo":0.17,"hi":0.3},{"p":"D","s":"b","t":-0.05,"lo":0.18,"hi":0.305},{"p":"D","s":"b","t":0.02,"lo":0.191,"hi":0.31},{"p":"D","s":"b","t":0.2,"lo":0.19,"hi":0.317},{"p":"D","s":"b","t":0.45,"lo":0.164,"hi":0.3},{"p":"D","s":"b","t":0.62,"lo":0.17,"hi":0.295},{"p":"D","s":"b","t":0.81,"lo":0.183,"hi":0.292},{"p":"D","s":"b","t":1.068,"lo":0.172,"hi":0.294},{"p":"D","s":"b","t":1.092,"lo":0.16,"hi":0.263},{"p":"D","s":"b","t":1.128,"lo":0.141,"hi":0.229},{"p":"D","s":"b","t":1.177,"lo":0.111,"hi":0.195},{"p":"D","s":"b","t":1.238,"lo":0.095,"hi":0.164},{"p":"D","s":"b","t":1.3,"lo":0.084,"hi":0.149},
{"p":"D","s":"k","t":-0.3,"lo":0.042,"hi":0.075},{"p":"D","s":"k","t":-0.1,"lo":0.055,"hi":0.105},{"p":"D","s":"k","t":0,"lo":0.06,"hi":0.133},{"p":"D","s":"k","t":0.2,"lo":0.065,"hi":0.139},{"p":"D","s":"k","t":0.4,"lo":0.069,"hi":0.135},{"p":"D","s":"k","t":0.6,"lo":0.06,"hi":0.13},{"p":"D","s":"k","t":0.8,"lo":0.06,"hi":0.12},{"p":"D","s":"k","t":1,"lo":0.056,"hi":0.115},{"p":"D","s":"k","t":1.1,"lo":0.05,"hi":0.11},{"p":"D","s":"k","t":1.2,"lo":0.045,"hi":0.085},{"p":"D","s":"k","t":1.3,"lo":0.04,"hi":0.075},
{"p":"D","s":"g","t":-0.3,"lo":0.015,"hi":0.055},{"p":"D","s":"g","t":-0.1,"lo":0.045,"hi":0.11},{"p":"D","s":"g","t":0,"lo":0.05,"hi":0.115},{"p":"D","s":"g","t":0.2,"lo":0.06,"hi":0.128},{"p":"D","s":"g","t":0.4,"lo":0.062,"hi":0.14},{"p":"D","s":"g","t":0.6,"lo":0.055,"hi":0.12},{"p":"D","s":"g","t":0.8,"lo":0.048,"hi":0.105},{"p":"D","s":"g","t":1,"lo":0.045,"hi":0.105},{"p":"D","s":"g","t":1.1,"lo":0.045,"hi":0.105},{"p":"D","s":"g","t":1.2,"lo":0.038,"hi":0.095},{"p":"D","s":"g","t":1.3,"lo":0.02,"hi":0.06},
{"p":"E","s":"b","t":-0.3,"lo":0.081,"hi":0.15},{"p":"E","s":"b","t":-0.2,"lo":0.095,"hi":0.17},{"p":"E","s":"b","t":-0.1,"lo":0.112,"hi":0.205},{"p":"E","s":"b","t":-0.06,"lo":0.153,"hi":0.215},{"p":"E","s":"b","t":0,"lo":0.15,"hi":0.218},{"p":"E","s":"b","t":0.1,"lo":0.155,"hi":0.231},{"p":"E","s":"b","t":0.3,"lo":0.15,"hi":0.225},{"p":"E","s":"b","t":0.4,"lo":0.148,"hi":0.222},{"p":"E","s":"b","t":0.6,"lo":0.155,"hi":0.228},{"p":"E","s":"b","t":0.8,"lo":0.16,"hi":0.232},{"p":"E","s":"b","t":1,"lo":0.155,"hi":0.228},{"p":"E","s":"b","t":1.05,"lo":0.14,"hi":0.215},{"p":"E","s":"b","t":1.1,"lo":0.12,"hi":0.2},{"p":"E","s":"b","t":1.2,"lo":0.095,"hi":0.16},{"p":"E","s":"b","t":1.25,"lo":0.087,"hi":0.145},
{"p":"E","s":"g","t":-0.3,"lo":0.025,"hi":0.06},{"p":"E","s":"g","t":-0.25,"lo":0.045,"hi":0.1},{"p":"E","s":"g","t":-0.16,"lo":0.055,"hi":0.11},{"p":"E","s":"g","t":-0.14,"lo":0.03,"hi":0.055},{"p":"E","s":"g","t":-0.1,"lo":0.022,"hi":0.04},{"p":"E","s":"g","t":-0.065,"lo":0.03,"hi":0.06},{"p":"E","s":"g","t":-0.06,"lo":0.07,"hi":0.12},{"p":"E","s":"g","t":0,"lo":0.07,"hi":0.12},{"p":"E","s":"g","t":0.2,"lo":0.075,"hi":0.13},{"p":"E","s":"g","t":0.4,"lo":0.075,"hi":0.135},{"p":"E","s":"g","t":0.6,"lo":0.085,"hi":0.15},{"p":"E","s":"g","t":0.8,"lo":0.09,"hi":0.165},{"p":"E","s":"g","t":1,"lo":0.09,"hi":0.175},{"p":"E","s":"g","t":1.02,"lo":0.085,"hi":0.165},{"p":"E","s":"g","t":1.04,"lo":0.04,"hi":0.08},{"p":"E","s":"g","t":1.06,"lo":0.025,"hi":0.055},{"p":"E","s":"g","t":1.09,"lo":0.05,"hi":0.1},{"p":"E","s":"g","t":1.11,"lo":0.075,"hi":0.16},{"p":"E","s":"g","t":1.15,"lo":0.07,"hi":0.135},{"p":"E","s":"g","t":1.2,"lo":0.065,"hi":0.13},{"p":"E","s":"g","t":1.25,"lo":0.035,"hi":0.085},
{"p":"E","s":"k","t":-0.3,"lo":0.012,"hi":0.045},{"p":"E","s":"k","t":-0.2,"lo":0.015,"hi":0.045},{"p":"E","s":"k","t":-0.17,"lo":-0.008,"hi":0.04},{"p":"E","s":"k","t":-0.14,"lo":0.015,"hi":0.05},{"p":"E","s":"k","t":-0.08,"lo":0.013,"hi":0.05},{"p":"E","s":"k","t":-0.06,"lo":0.025,"hi":0.075},{"p":"E","s":"k","t":0,"lo":0.03,"hi":0.085},{"p":"E","s":"k","t":0.1,"lo":0.045,"hi":0.095},{"p":"E","s":"k","t":0.35,"lo":0.062,"hi":0.112},{"p":"E","s":"k","t":0.6,"lo":0.05,"hi":0.1},{"p":"E","s":"k","t":0.8,"lo":0.045,"hi":0.095},{"p":"E","s":"k","t":1,"lo":0.04,"hi":0.09},{"p":"E","s":"k","t":1.02,"lo":0.015,"hi":0.065},{"p":"E","s":"k","t":1.06,"lo":0.013,"hi":0.05},{"p":"E","s":"k","t":1.1,"lo":0.01,"hi":0.055},{"p":"E","s":"k","t":1.12,"lo":-0.003,"hi":0.045},{"p":"E","s":"k","t":1.15,"lo":0.018,"hi":0.055},{"p":"E","s":"k","t":1.25,"lo":0.018,"hi":0.05},
{"p":"F","s":"b","t":-0.3,"lo":0.08,"hi":0.125},{"p":"F","s":"b","t":-0.2,"lo":0.105,"hi":0.155},{"p":"F","s":"b","t":-0.12,"lo":0.135,"hi":0.2},{"p":"F","s":"b","t":-0.08,"lo":0.18,"hi":0.25},{"p":"F","s":"b","t":-0.06,"lo":0.19,"hi":0.3},{"p":"F","s":"b","t":0,"lo":0.215,"hi":0.315},{"p":"F","s":"b","t":0.1,"lo":0.23,"hi":0.332},{"p":"F","s":"b","t":0.25,"lo":0.235,"hi":0.332},{"p":"F","s":"b","t":0.4,"lo":0.215,"hi":0.31},{"p":"F","s":"b","t":0.5,"lo":0.205,"hi":0.305},{"p":"F","s":"b","t":0.7,"lo":0.21,"hi":0.3},{"p":"F","s":"b","t":0.9,"lo":0.215,"hi":0.305},{"p":"F","s":"b","t":1,"lo":0.205,"hi":0.3},{"p":"F","s":"b","t":1.03,"lo":0.18,"hi":0.28},{"p":"F","s":"b","t":1.06,"lo":0.14,"hi":0.22},{"p":"F","s":"b","t":1.1,"lo":0.115,"hi":0.17},{"p":"F","s":"b","t":1.2,"lo":0.095,"hi":0.145},{"p":"F","s":"b","t":1.25,"lo":0.08,"hi":0.12},
{"p":"F","s":"k","t":-0.3,"lo":0.025,"hi":0.07},{"p":"F","s":"k","t":-0.2,"lo":0.04,"hi":0.105},{"p":"F","s":"k","t":-0.15,"lo":0.05,"hi":0.11},{"p":"F","s":"k","t":-0.11,"lo":0.025,"hi":0.06},{"p":"F","s":"k","t":-0.08,"lo":0.04,"hi":0.09},{"p":"F","s":"k","t":-0.06,"lo":0.085,"hi":0.155},{"p":"F","s":"k","t":0,"lo":0.085,"hi":0.165},{"p":"F","s":"k","t":0.1,"lo":0.09,"hi":0.165},{"p":"F","s":"k","t":0.35,"lo":0.095,"hi":0.18},{"p":"F","s":"k","t":0.6,"lo":0.085,"hi":0.16},{"p":"F","s":"k","t":0.8,"lo":0.085,"hi":0.165},{"p":"F","s":"k","t":1,"lo":0.08,"hi":0.165},{"p":"F","s":"k","t":1.03,"lo":0.06,"hi":0.12},{"p":"F","s":"k","t":1.06,"lo":0.03,"hi":0.075},{"p":"F","s":"k","t":1.09,"lo":0.045,"hi":0.1},{"p":"F","s":"k","t":1.12,"lo":0.05,"hi":0.11},{"p":"F","s":"k","t":1.25,"lo":0.035,"hi":0.08},
{"p":"F","s":"g","t":-0.3,"lo":0.02,"hi":0.05},{"p":"F","s":"g","t":-0.2,"lo":0.04,"hi":0.09},{"p":"F","s":"g","t":-0.15,"lo":0.045,"hi":0.095},{"p":"F","s":"g","t":-0.11,"lo":0.02,"hi":0.04},{"p":"F","s":"g","t":-0.08,"lo":0.04,"hi":0.09},{"p":"F","s":"g","t":-0.06,"lo":0.045,"hi":0.095},{"p":"F","s":"g","t":0,"lo":0.045,"hi":0.095},{"p":"F","s":"g","t":0.2,"lo":0.052,"hi":0.11},{"p":"F","s":"g","t":0.4,"lo":0.055,"hi":0.125},{"p":"F","s":"g","t":0.6,"lo":0.055,"hi":0.14},{"p":"F","s":"g","t":0.8,"lo":0.07,"hi":0.16},{"p":"F","s":"g","t":0.95,"lo":0.075,"hi":0.17},{"p":"F","s":"g","t":1.02,"lo":0.065,"hi":0.145},{"p":"F","s":"g","t":1.05,"lo":0.035,"hi":0.1},{"p":"F","s":"g","t":1.07,"lo":0.025,"hi":0.08},{"p":"F","s":"g","t":1.1,"lo":0.06,"hi":0.15},{"p":"F","s":"g","t":1.15,"lo":0.055,"hi":0.125},{"p":"F","s":"g","t":1.25,"lo":0.03,"hi":0.1},
{"p":"G","s":"b","t":-0.3,"lo":0.14,"hi":0.205},{"p":"G","s":"b","t":-0.2,"lo":0.17,"hi":0.245},{"p":"G","s":"b","t":-0.1,"lo":0.205,"hi":0.285},{"p":"G","s":"b","t":0,"lo":0.232,"hi":0.31},{"p":"G","s":"b","t":0.1,"lo":0.237,"hi":0.318},{"p":"G","s":"b","t":0.2,"lo":0.245,"hi":0.325},{"p":"G","s":"b","t":0.3,"lo":0.245,"hi":0.32},{"p":"G","s":"b","t":0.4,"lo":0.24,"hi":0.322},{"p":"G","s":"b","t":0.5,"lo":0.235,"hi":0.315},{"p":"G","s":"b","t":0.7,"lo":0.225,"hi":0.312},{"p":"G","s":"b","t":0.9,"lo":0.232,"hi":0.31},{"p":"G","s":"b","t":1,"lo":0.232,"hi":0.315},{"p":"G","s":"b","t":1.05,"lo":0.225,"hi":0.305},{"p":"G","s":"b","t":1.1,"lo":0.2,"hi":0.285},{"p":"G","s":"b","t":1.2,"lo":0.165,"hi":0.24},{"p":"G","s":"b","t":1.25,"lo":0.135,"hi":0.205},
{"p":"G","s":"k","t":-0.3,"lo":0.055,"hi":0.095},{"p":"G","s":"k","t":-0.2,"lo":0.075,"hi":0.12},{"p":"G","s":"k","t":-0.1,"lo":0.088,"hi":0.135},{"p":"G","s":"k","t":0,"lo":0.095,"hi":0.14},{"p":"G","s":"k","t":0.15,"lo":0.105,"hi":0.153},{"p":"G","s":"k","t":0.3,"lo":0.11,"hi":0.155},{"p":"G","s":"k","t":0.5,"lo":0.105,"hi":0.147},{"p":"G","s":"k","t":0.8,"lo":0.1,"hi":0.145},{"p":"G","s":"k","t":1,"lo":0.1,"hi":0.14},{"p":"G","s":"k","t":1.1,"lo":0.092,"hi":0.13},{"p":"G","s":"k","t":1.2,"lo":0.075,"hi":0.11},{"p":"G","s":"k","t":1.25,"lo":0.065,"hi":0.1},
{"p":"G","s":"g","t":-0.3,"lo":0.048,"hi":0.07},{"p":"G","s":"g","t":-0.2,"lo":0.07,"hi":0.095},{"p":"G","s":"g","t":-0.1,"lo":0.073,"hi":0.1},{"p":"G","s":"g","t":0,"lo":0.073,"hi":0.105},{"p":"G","s":"g","t":0.2,"lo":0.08,"hi":0.11},{"p":"G","s":"g","t":0.4,"lo":0.085,"hi":0.125},{"p":"G","s":"g","t":0.6,"lo":0.082,"hi":0.125},{"p":"G","s":"g","t":0.8,"lo":0.085,"hi":0.128},{"p":"G","s":"g","t":1,"lo":0.08,"hi":0.12},{"p":"G","s":"g","t":1.1,"lo":0.078,"hi":0.115},{"p":"G","s":"g","t":1.2,"lo":0.055,"hi":0.085},{"p":"G","s":"g","t":1.25,"lo":0.045,"hi":0.075}
]
},
"columns": 2,
"spacing": {"row": 106, "column": 148},
"bounds": "flush",
"concat": [
{"width": 470, "height": 294, "resolve": {"axis": {"x": "independent", "y": "independent"}}, "layer": [
 {"data": {"name": "spans"}, "transform": [{"filter": "datum.p === 'A'"}], "mark": {"type": "rect"}, "encoding": {"x": {"field": "x0", "type": "quantitative", "scale": {"domain": [-1, 2], "nice": false, "zero": false}, "axis": {"orient": "top", "title": "Task 1 (n = 15)", "labels": false, "ticks": false, "domain": false, "titleX": 235, "titleY": -28, "titleAlign": "center", "titleBaseline": "alphabetic", "titleFontSize": 35, "titleFontWeight": "bold"}}, "x2": {"field": "x1"}, "fill": {"field": "per", "type": "nominal", "scale": {"domain": ["enc", "del"], "range": ["#cccccc", "#e5e5e5"]}, "legend": null}}},
 {"data": {"name": "bands"}, "transform": [{"filter": "datum.p === 'A'"}], "mark": {"type": "area", "opacity": 0.2}, "encoding": {"x": {"field": "t", "type": "quantitative", "axis": null}, "y": {"field": "lo", "type": "quantitative", "scale": {"domain": [0.007, 0.314], "nice": false, "zero": false}, "axis": {"orient": "right", "title": "A", "labels": false, "ticks": false, "domain": false, "titleAngle": 0, "titleX": -515.5, "titleY": -14, "titleAlign": "left", "titleBaseline": "alphabetic", "titleFontSize": 46, "titleFontWeight": "bold"}}, "y2": {"field": "hi"}, "color": {"field": "s", "type": "nominal", "scale": {"domain": ["k", "b", "g"], "range": ["#000000", "#1f5f8b", "#d0a050"]}, "legend": null}}},
 {"data": {"name": "lines"}, "transform": [{"filter": "datum.p === 'A'"}], "mark": {"type": "line", "strokeWidth": 1.3}, "encoding": {"x": {"field": "t", "type": "quantitative", "axis": {"orient": "bottom", "title": "Time (s)", "values": [-1, -0.5, 0, 0.5, 1, 1.5, 2], "format": ".1f", "titleX": 235, "titleY": 37, "titleAlign": "center", "titleBaseline": "alphabetic"}}, "y": {"field": "r", "type": "quantitative", "axis": {"orient": "left", "title": "Pearson r", "values": [0.05, 0.1, 0.15, 0.2, 0.25, 0.3], "format": ".2f", "titleX": -50.5, "titleY": 147, "titleAngle": -90, "titleAlign": "center", "titleBaseline": "middle"}}, "color": {"field": "s", "type": "nominal", "scale": {"domain": ["k", "b", "g"], "range": ["#000000", "#1f5f8b", "#d0a050"]}, "legend": null}}}
]},
{"width": 470, "height": 294, "resolve": {"axis": {"x": "independent", "y": "independent"}}, "layer": [
 {"data": {"name": "spans"}, "transform": [{"filter": "datum.p === 'B'"}], "mark": {"type": "rect"}, "encoding": {"x": {"field": "x0", "type": "quantitative", "scale": {"domain": [-1, 2], "nice": false, "zero": false}, "axis": {"orient": "top", "title": "Task 2 (n = 15)", "labels": false, "ticks": false, "domain": false, "titleX": 235, "titleY": -28, "titleAlign": "center", "titleBaseline": "alphabetic", "titleFontSize": 35, "titleFontWeight": "bold"}}, "x2": {"field": "x1"}, "fill": {"field": "per", "type": "nominal", "scale": {"domain": ["enc", "del"], "range": ["#cccccc", "#e5e5e5"]}, "legend": null}}},
 {"data": {"name": "bands"}, "transform": [{"filter": "datum.p === 'B'"}], "mark": {"type": "area", "opacity": 0.2}, "encoding": {"x": {"field": "t", "type": "quantitative", "axis": null}, "y": {"field": "lo", "type": "quantitative", "scale": {"domain": [-0.0144, 0.372], "nice": false, "zero": false}, "axis": {"orient": "right", "title": "B", "labels": false, "ticks": false, "domain": false, "titleAngle": 0, "titleX": -515.5, "titleY": -14, "titleAlign": "left", "titleBaseline": "alphabetic", "titleFontSize": 46, "titleFontWeight": "bold"}}, "y2": {"field": "hi"}, "color": {"field": "s", "type": "nominal", "scale": {"domain": ["k", "b", "g"], "range": ["#000000", "#1f5f8b", "#d0a050"]}, "legend": null}}},
 {"data": {"name": "lines"}, "transform": [{"filter": "datum.p === 'B'"}], "mark": {"type": "line", "strokeWidth": 1.3}, "encoding": {"x": {"field": "t", "type": "quantitative", "axis": {"orient": "bottom", "title": "Time (s)", "values": [-1, -0.5, 0, 0.5, 1, 1.5, 2], "format": ".1f", "titleX": 235, "titleY": 37, "titleAlign": "center", "titleBaseline": "alphabetic"}}, "y": {"field": "r", "type": "quantitative", "axis": {"orient": "left", "title": "Pearson r", "values": [0, 0.05, 0.1, 0.15, 0.2, 0.25, 0.3, 0.35], "format": ".2f", "titleX": -50.5, "titleY": 147, "titleAngle": -90, "titleAlign": "center", "titleBaseline": "middle"}}, "color": {"field": "s", "type": "nominal", "scale": {"domain": ["k", "b", "g"], "range": ["#000000", "#1f5f8b", "#d0a050"]}, "legend": null}}}
]},
{"width": 470, "height": 294, "resolve": {"axis": {"x": "independent", "y": "independent"}}, "layer": [
 {"data": {"name": "spans"}, "transform": [{"filter": "datum.p === 'C'"}], "mark": {"type": "rect"}, "encoding": {"x": {"field": "x0", "type": "quantitative", "scale": {"domain": [-1, 2], "nice": false, "zero": false}, "axis": {"orient": "top", "title": "Task 3 (n = 14)", "labels": false, "ticks": false, "domain": false, "titleX": 235, "titleY": -28, "titleAlign": "center", "titleBaseline": "alphabetic", "titleFontSize": 35, "titleFontWeight": "bold"}}, "x2": {"field": "x1"}, "fill": {"field": "per", "type": "nominal", "scale": {"domain": ["enc", "del"], "range": ["#cccccc", "#e5e5e5"]}, "legend": null}}},
 {"data": {"name": "bands"}, "transform": [{"filter": "datum.p === 'C'"}], "mark": {"type": "area", "opacity": 0.2}, "encoding": {"x": {"field": "t", "type": "quantitative", "axis": null}, "y": {"field": "lo", "type": "quantitative", "scale": {"domain": [0.007, 0.429], "nice": false, "zero": false}, "axis": {"orient": "right", "title": "C", "labels": false, "ticks": false, "domain": false, "titleAngle": 0, "titleX": -515.5, "titleY": -14, "titleAlign": "left", "titleBaseline": "alphabetic", "titleFontSize": 46, "titleFontWeight": "bold"}}, "y2": {"field": "hi"}, "color": {"field": "s", "type": "nominal", "scale": {"domain": ["k", "b", "g"], "range": ["#000000", "#1f5f8b", "#d0a050"]}, "legend": null}}},
 {"data": {"name": "lines"}, "transform": [{"filter": "datum.p === 'C'"}], "mark": {"type": "line", "strokeWidth": 1.3}, "encoding": {"x": {"field": "t", "type": "quantitative", "axis": {"orient": "bottom", "title": "Time (s)", "values": [-1, -0.5, 0, 0.5, 1, 1.5, 2], "format": ".1f", "titleX": 235, "titleY": 37, "titleAlign": "center", "titleBaseline": "alphabetic"}}, "y": {"field": "r", "type": "quantitative", "axis": {"orient": "left", "title": "Pearson r", "values": [0.05, 0.1, 0.15, 0.2, 0.25, 0.3, 0.35, 0.4], "format": ".2f", "titleX": -50.5, "titleY": 147, "titleAngle": -90, "titleAlign": "center", "titleBaseline": "middle"}}, "color": {"field": "s", "type": "nominal", "scale": {"domain": ["k", "b", "g"], "range": ["#000000", "#1f5f8b", "#d0a050"]}, "legend": null}}}
]},
{"width": 470, "height": 294, "resolve": {"axis": {"x": "independent", "y": "independent"}}, "layer": [
 {"data": {"name": "spans"}, "transform": [{"filter": "datum.p === 'D'"}], "mark": {"type": "rect"}, "encoding": {"x": {"field": "x0", "type": "quantitative", "scale": {"domain": [-0.3, 1.3], "nice": false, "zero": false}, "axis": {"orient": "top", "title": "Task 4 (n = 12)", "labels": false, "ticks": false, "domain": false, "titleX": 235, "titleY": -28, "titleAlign": "center", "titleBaseline": "alphabetic", "titleFontSize": 35, "titleFontWeight": "bold"}}, "x2": {"field": "x1"}, "fill": {"field": "per", "type": "nominal", "scale": {"domain": ["enc", "del"], "range": ["#cccccc", "#e5e5e5"]}, "legend": null}}},
 {"data": {"name": "bands"}, "transform": [{"filter": "datum.p === 'D'"}], "mark": {"type": "area", "opacity": 0.2}, "encoding": {"x": {"field": "t", "type": "quantitative", "axis": null}, "y": {"field": "lo", "type": "quantitative", "scale": {"domain": [-0.0015, 0.336], "nice": false, "zero": false}, "axis": {"orient": "right", "title": "D", "labels": false, "ticks": false, "domain": false, "titleAngle": 0, "titleX": -515.5, "titleY": -14, "titleAlign": "left", "titleBaseline": "alphabetic", "titleFontSize": 46, "titleFontWeight": "bold"}}, "y2": {"field": "hi"}, "color": {"field": "s", "type": "nominal", "scale": {"domain": ["k", "b", "g"], "range": ["#000000", "#1f5f8b", "#d0a050"]}, "legend": null}}},
 {"data": {"name": "lines"}, "transform": [{"filter": "datum.p === 'D'"}], "mark": {"type": "line", "strokeWidth": 1.3}, "encoding": {"x": {"field": "t", "type": "quantitative", "axis": {"orient": "bottom", "title": "Time (s)", "values": [-0.2, 0, 0.2, 0.4, 0.6, 0.8, 1, 1.2], "format": ".1f", "titleX": 235, "titleY": 37, "titleAlign": "center", "titleBaseline": "alphabetic"}}, "y": {"field": "r", "type": "quantitative", "axis": {"orient": "left", "title": "Pearson r", "values": [0, 0.05, 0.1, 0.15, 0.2, 0.25, 0.3], "format": ".2f", "titleX": -50.5, "titleY": 147, "titleAngle": -90, "titleAlign": "center", "titleBaseline": "middle"}}, "color": {"field": "s", "type": "nominal", "scale": {"domain": ["k", "b", "g"], "range": ["#000000", "#1f5f8b", "#d0a050"]}, "legend": null}}}
]},
{"width": 470, "height": 294, "resolve": {"axis": {"x": "independent", "y": "independent"}}, "layer": [
 {"data": {"name": "spans"}, "transform": [{"filter": "datum.p === 'E'"}], "mark": {"type": "rect"}, "encoding": {"x": {"field": "x0", "type": "quantitative", "scale": {"domain": [-0.3, 1.25], "nice": false, "zero": false}, "axis": {"orient": "top", "title": "Task 5 (n = 18)", "labels": false, "ticks": false, "domain": false, "titleX": 235, "titleY": -28, "titleAlign": "center", "titleBaseline": "alphabetic", "titleFontSize": 35, "titleFontWeight": "bold"}}, "x2": {"field": "x1"}, "fill": {"field": "per", "type": "nominal", "scale": {"domain": ["enc", "del"], "range": ["#cccccc", "#e5e5e5"]}, "legend": null}}},
 {"data": {"name": "bands"}, "transform": [{"filter": "datum.p === 'E'"}], "mark": {"type": "area", "opacity": 0.2}, "encoding": {"x": {"field": "t", "type": "quantitative", "axis": null}, "y": {"field": "lo", "type": "quantitative", "scale": {"domain": [-0.021, 0.2497], "nice": false, "zero": false}, "axis": {"orient": "right", "title": "E", "labels": false, "ticks": false, "domain": false, "titleAngle": 0, "titleX": -515.5, "titleY": -14, "titleAlign": "left", "titleBaseline": "alphabetic", "titleFontSize": 46, "titleFontWeight": "bold"}}, "y2": {"field": "hi"}, "color": {"field": "s", "type": "nominal", "scale": {"domain": ["k", "b", "g"], "range": ["#000000", "#1f5f8b", "#d0a050"]}, "legend": null}}},
 {"data": {"name": "lines"}, "transform": [{"filter": "datum.p === 'E'"}], "mark": {"type": "line", "strokeWidth": 1.3}, "encoding": {"x": {"field": "t", "type": "quantitative", "axis": {"orient": "bottom", "title": "Time (s)", "values": [-0.2, 0, 0.2, 0.4, 0.6, 0.8, 1, 1.2], "format": ".1f", "titleX": 235, "titleY": 37, "titleAlign": "center", "titleBaseline": "alphabetic"}}, "y": {"field": "r", "type": "quantitative", "axis": {"orient": "left", "title": "Pearson r", "values": [0, 0.05, 0.1, 0.15, 0.2], "format": ".2f", "titleX": -50.5, "titleY": 147, "titleAngle": -90, "titleAlign": "center", "titleBaseline": "middle"}}, "color": {"field": "s", "type": "nominal", "scale": {"domain": ["k", "b", "g"], "range": ["#000000", "#1f5f8b", "#d0a050"]}, "legend": null}}}
]},
{"width": 470, "height": 294, "resolve": {"axis": {"x": "independent", "y": "independent"}}, "layer": [
 {"data": {"name": "spans"}, "transform": [{"filter": "datum.p === 'F'"}], "mark": {"type": "rect"}, "encoding": {"x": {"field": "x0", "type": "quantitative", "scale": {"domain": [-0.3, 1.25], "nice": false, "zero": false}, "axis": {"orient": "top", "title": "Task 6 (n = 14)", "labels": false, "ticks": false, "domain": false, "titleX": 235, "titleY": -28, "titleAlign": "center", "titleBaseline": "alphabetic", "titleFontSize": 35, "titleFontWeight": "bold"}}, "x2": {"field": "x1"}, "fill": {"field": "per", "type": "nominal", "scale": {"domain": ["enc", "del"], "range": ["#cccccc", "#e5e5e5"]}, "legend": null}}},
 {"data": {"name": "bands"}, "transform": [{"filter": "datum.p === 'F'"}], "mark": {"type": "area", "opacity": 0.2}, "encoding": {"x": {"field": "t", "type": "quantitative", "axis": null}, "y": {"field": "lo", "type": "quantitative", "scale": {"domain": [-0.001, 0.3524], "nice": false, "zero": false}, "axis": {"orient": "right", "title": "F", "labels": false, "ticks": false, "domain": false, "titleAngle": 0, "titleX": -515.5, "titleY": -14, "titleAlign": "left", "titleBaseline": "alphabetic", "titleFontSize": 46, "titleFontWeight": "bold"}}, "y2": {"field": "hi"}, "color": {"field": "s", "type": "nominal", "scale": {"domain": ["k", "b", "g"], "range": ["#000000", "#1f5f8b", "#d0a050"]}, "legend": null}}},
 {"data": {"name": "lines"}, "transform": [{"filter": "datum.p === 'F'"}], "mark": {"type": "line", "strokeWidth": 1.3}, "encoding": {"x": {"field": "t", "type": "quantitative", "axis": {"orient": "bottom", "title": "Time (s)", "values": [-0.2, 0, 0.2, 0.4, 0.6, 0.8, 1, 1.2], "format": ".1f", "titleX": 235, "titleY": 37, "titleAlign": "center", "titleBaseline": "alphabetic"}}, "y": {"field": "r", "type": "quantitative", "axis": {"orient": "left", "title": "Pearson r", "values": [0, 0.05, 0.1, 0.15, 0.2, 0.25, 0.3, 0.35], "format": ".2f", "titleX": -50.5, "titleY": 147, "titleAngle": -90, "titleAlign": "center", "titleBaseline": "middle"}}, "color": {"field": "s", "type": "nominal", "scale": {"domain": ["k", "b", "g"], "range": ["#000000", "#1f5f8b", "#d0a050"]}, "legend": null}}}
]},
{"width": 470, "height": 294, "resolve": {"axis": {"x": "independent", "y": "independent"}}, "layer": [
 {"data": {"name": "spans"}, "transform": [{"filter": "datum.p === 'G'"}], "mark": {"type": "rect"}, "encoding": {"x": {"field": "x0", "type": "quantitative", "scale": {"domain": [-0.3, 1.25], "nice": false, "zero": false}, "axis": {"orient": "top", "title": "Task 7 (n = 24)", "labels": false, "ticks": false, "domain": false, "titleX": 235, "titleY": -28, "titleAlign": "center", "titleBaseline": "alphabetic", "titleFontSize": 35, "titleFontWeight": "bold"}}, "x2": {"field": "x1"}, "fill": {"field": "per", "type": "nominal", "scale": {"domain": ["enc", "del"], "range": ["#cccccc", "#e5e5e5"]}, "legend": null}}},
 {"data": {"name": "bands"}, "transform": [{"filter": "datum.p === 'G'"}], "mark": {"type": "area", "opacity": 0.2}, "encoding": {"x": {"field": "t", "type": "quantitative", "axis": null}, "y": {"field": "lo", "type": "quantitative", "scale": {"domain": [0.0303, 0.3413], "nice": false, "zero": false}, "axis": {"orient": "right", "title": "G", "labels": false, "ticks": false, "domain": false, "titleAngle": 0, "titleX": -515.5, "titleY": -14, "titleAlign": "left", "titleBaseline": "alphabetic", "titleFontSize": 46, "titleFontWeight": "bold"}}, "y2": {"field": "hi"}, "color": {"field": "s", "type": "nominal", "scale": {"domain": ["k", "b", "g"], "range": ["#000000", "#1f5f8b", "#d0a050"]}, "legend": null}}},
 {"data": {"name": "lines"}, "transform": [{"filter": "datum.p === 'G'"}], "mark": {"type": "line", "strokeWidth": 1.3}, "encoding": {"x": {"field": "t", "type": "quantitative", "axis": {"orient": "bottom", "title": "Time (s)", "values": [-0.2, 0, 0.2, 0.4, 0.6, 0.8, 1, 1.2], "format": ".1f", "titleX": 235, "titleY": 37, "titleAlign": "center", "titleBaseline": "alphabetic"}}, "y": {"field": "r", "type": "quantitative", "axis": {"orient": "left", "title": "Pearson r", "values": [0.05, 0.1, 0.15, 0.2, 0.25, 0.3], "format": ".2f", "titleX": -50.5, "titleY": 147, "titleAngle": -90, "titleAlign": "center", "titleBaseline": "middle"}}, "color": {"field": "s", "type": "nominal", "scale": {"domain": ["k", "b", "g"], "range": ["#000000", "#1f5f8b", "#d0a050"]}, "legend": null}}}
]},
{"width": 590, "height": 294, "layer": [
 {"data": {"name": "legend"}, "transform": [{"filter": "datum.order === 1"}], "mark": {"type": "rect", "fill": "white", "stroke": "#d6d6d6", "strokeWidth": 1, "cornerRadius": 3}, "encoding": {"x": {"datum": 0, "type": "quantitative", "scale": {"domain": [0, 1], "range": [-120, 590], "nice": false, "zero": false}, "axis": null}, "x2": {"datum": 1}, "y": {"datum": 0.42, "type": "quantitative", "scale": {"domain": [-0.758, 6.823], "reverse": true, "nice": false, "zero": false}, "axis": null}, "y2": {"datum": 5.606}}},
 {"data": {"name": "legend"}, "transform": [{"filter": "datum.kind === 'line'"}], "mark": {"type": "tick", "orient": "horizontal", "size": 53, "thickness": 1.3, "opacity": 1}, "encoding": {"x": {"datum": 0.0511, "type": "quantitative", "axis": null}, "y": {"field": "order", "type": "quantitative", "axis": null}, "color": {"field": "key", "type": "nominal", "scale": {"domain": ["k", "b", "g"], "range": ["#000000", "#1f5f8b", "#d0a050"]}, "legend": null}}},
 {"data": {"name": "legend"}, "transform": [{"filter": "datum.kind === 'patch'"}], "mark": {"type": "tick", "orient": "horizontal", "size": 53, "thickness": 18.7, "opacity": 1}, "encoding": {"x": {"datum": 0.0511, "type": "quantitative", "axis": null}, "y": {"field": "order", "type": "quantitative", "axis": null}, "fill": {"field": "key", "type": "nominal", "scale": {"domain": ["enc", "del"], "range": ["#cccccc", "#e5e5e5"]}, "legend": null}}},
 {"data": {"name": "legend"}, "mark": {"type": "text", "align": "left", "baseline": "middle", "fontSize": 26.7, "font": "DejaVu Sans", "color": "#000000"}, "encoding": {"x": {"datum": 0.1206, "type": "quantitative", "axis": null}, "y": {"field": "order", "type": "quantitative", "axis": null}, "text": {"field": "label"}}}
]}
]
}
